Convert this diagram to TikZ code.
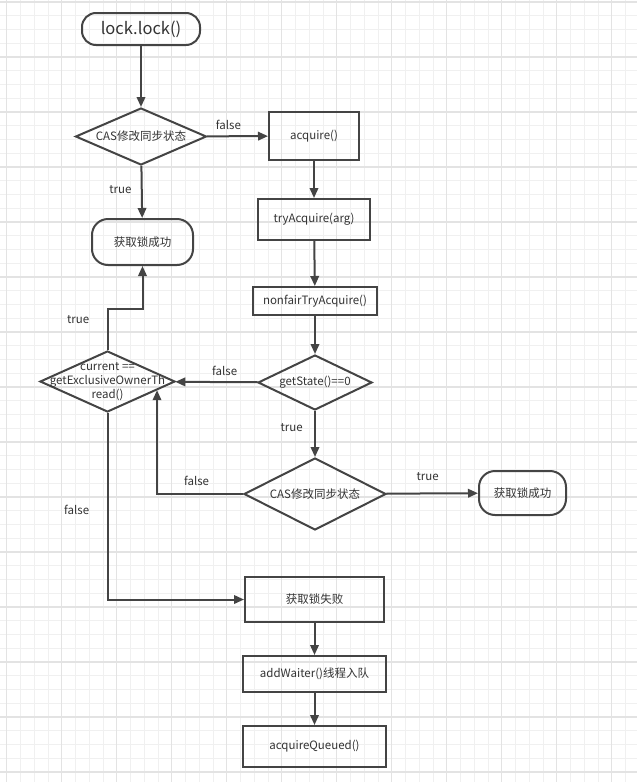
\documentclass[tikz,border=0pt]{standalone}
\usepackage{fontspec}
\setmainfont{Noto Sans CJK SC}
\usepackage{tikz}
\usetikzlibrary{arrows.meta,shapes.geometric,positioning}

\definecolor{ln}{HTML}{444444}
\definecolor{txt}{HTML}{333333}
\definecolor{gridlo}{HTML}{F0F0F0}
\definecolor{gridhi}{HTML}{E3E3E3}

\begin{document}
\begin{tikzpicture}[x=1pt,y=-1pt,>={Triangle[length=10pt,width=8.5pt]},
		every node/.style={font=\fontsize{11.5}{14}\selectfont,text=txt,align=center},
		terminal/.style={draw=ln,line width=2pt,rounded corners=16pt,inner sep=2pt},
		process/.style={draw=ln,line width=2pt,rectangle,inner sep=2pt},
		decision/.style={draw=ln,line width=2pt,diamond,aspect=2.2,inner sep=0pt},
		flow/.style={draw=ln,line width=2pt,->}]
	\useasboundingbox (0,0) rectangle (637,782);
	\fill[white] (0,0) rectangle (637,782);
	% background grid
	\foreach \i in {0,...,45}
		\draw[gridlo,line width=0.8pt] (6.7+\i*13.75,0) -- (6.7+\i*13.75,782);
	\foreach \i in {0,...,56}
		\draw[gridlo,line width=0.8pt] (0,2+\i*13.75) -- (637,2+\i*13.75);
	\foreach \i in {0,...,11}
		\draw[gridhi,line width=1.1pt] (6.7+\i*55,0) -- (6.7+\i*55,782);
	\foreach \i in {0,...,14}
		\draw[gridhi,line width=1.1pt] (0,2+\i*55) -- (637,2+\i*55);

	\node[terminal,rounded corners=14pt,minimum width=118pt,minimum height=32pt,font=\fontsize{16.5}{18}\selectfont] (lock) at (141,29) {lock.lock()};
	\node[decision,minimum width=131pt,minimum height=57pt] (cas) at (141,136.5) {CAS修改同步状态};
	\node[terminal,minimum width=101pt,minimum height=46pt] (ok1) at (142.5,242) {获取锁成功};
	\node[process,minimum width=90pt,minimum height=48pt] (acq) at (314,136) {acquire()};
	\node[process,minimum width=112pt,minimum height=41pt] (try) at (314,219.5) {tryAcquire(arg)};
	\node[process,minimum width=124pt,minimum height=28pt] (nonfair) at (315,301) {nonfairTryAcquire()};
	\node[decision,minimum width=114pt,minimum height=55pt] (state) at (315,382.5) {getState()==0};
	\node[decision,minimum width=135pt,minimum height=61pt,
		label={[align=center,font=\fontsize{11.5}{14}\selectfont]center:current ==\\getExclusiveOwnerTh\\read()}] (owner) at (107.5,381.5) {};
	\node[decision,minimum width=142pt,minimum height=72pt] (cas2) at (315,494) {CAS修改同步状态};
	\node[terminal,minimum width=87pt,minimum height=44pt] (ok2) at (522.5,493) {获取锁成功};
	\node[process,minimum width=139pt,minimum height=45pt] (fail) at (314.5,599.5) {获取锁失败};
	\node[process,minimum width=143pt,minimum height=36pt] (waiter) at (314.5,674) {addWaiter()线程入队};
	\node[process,minimum width=143pt,minimum height=41pt] (queued) at (314.5,746.5) {acquireQueued()};

	\draw[flow] (lock) -- (cas);
	\draw[flow] (cas) -- node[above=2pt,pos=0.35] {false} (acq);
	\draw[flow] (cas) -- node[left=6pt,pos=0.45] {true} (ok1);
	\draw[flow] (acq) -- (try);
	\draw[flow] (try) -- (nonfair);
	\draw[flow] (nonfair) -- (state);
	\draw[flow] (state) -- node[above=2pt,pos=0.4] {false} (owner);
	\draw[flow] (state) -- node[left=8pt,pos=0.35] {true} (cas2);
	\draw[flow] (cas2) -- node[above=8pt,pos=0.45] {true} (ok2);
	\draw[flow] (cas2) -| node[above=4pt,pos=0.27] {false} (owner.-10.7);
	\draw[flow] (owner.north) -- node[left=14pt,pos=0.75] {true} ++(0,-41) -| (ok1);
	\draw[flow] (owner.south) |- node[left=14pt,pos=0.26] {false} (fail);
	\draw[flow] (fail) -- (waiter);
	\draw[flow] (waiter) -- (queued);
\end{tikzpicture}
\end{document}
